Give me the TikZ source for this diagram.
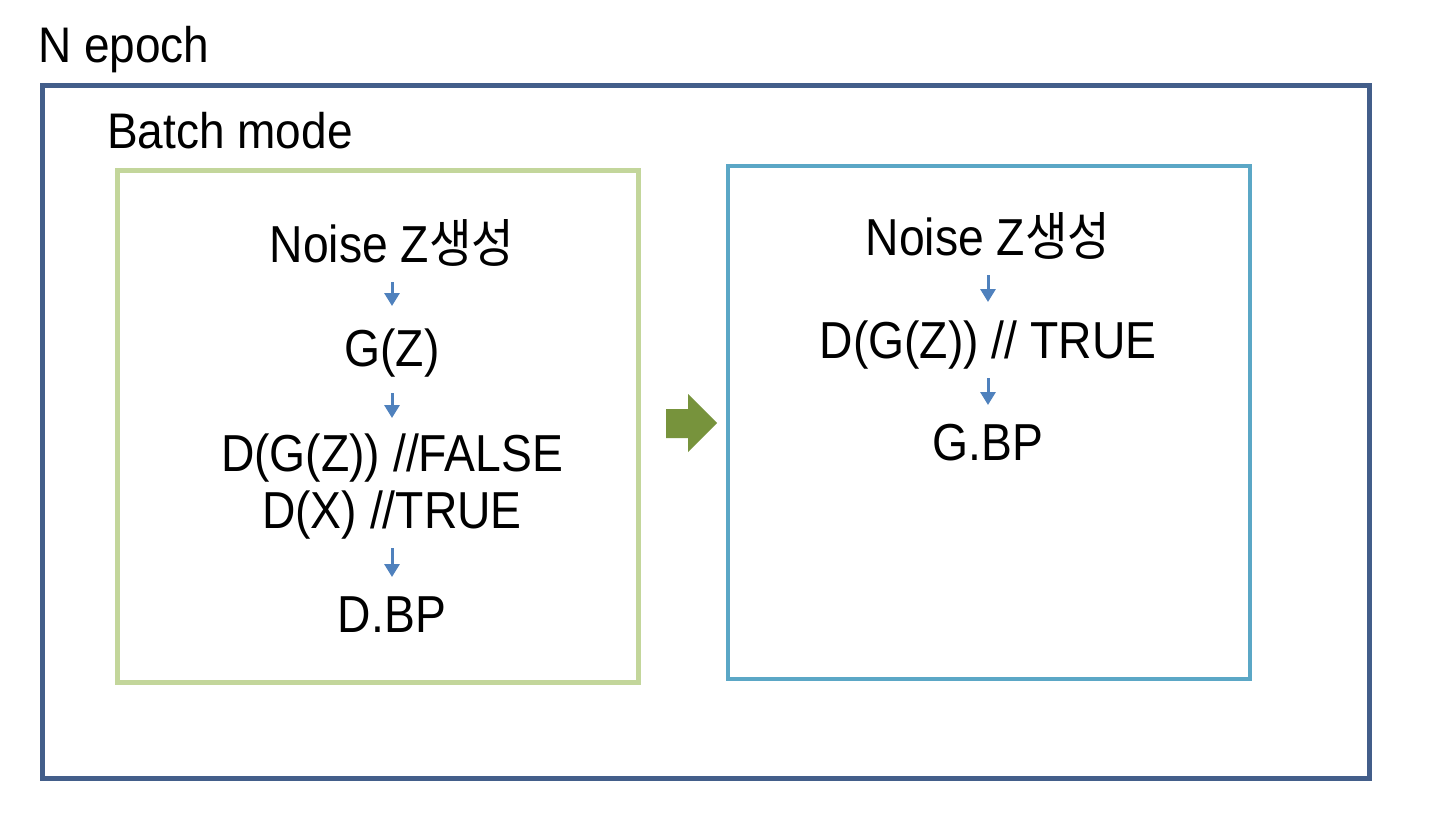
\documentclass[tikz,border=0pt]{standalone}
\usepackage{fontspec}
\setmainfont{Liberation Sans}
\newfontfamily\kr{Noto Sans CJK KR}
\usetikzlibrary{arrows.meta}
\definecolor{outerc}{RGB}{67,94,138}
\definecolor{greenc}{RGB}{195,214,155}
\definecolor{bluec}{RGB}{91,167,198}
\definecolor{arrowg}{RGB}{119,147,60}
\definecolor{arrowb}{RGB}{79,129,189}
\tikzset{
  txt/.style={anchor=base, inner sep=0pt, font=\fontsize{52}{60}\selectfont, xscale=0.89, transform shape},
  lbl/.style={anchor=base west, inner sep=0pt, font=\fontsize{50}{58}\selectfont, xscale=0.92, transform shape},
  arr/.style={arrowb, line width=3pt, -{Triangle[length=13pt,width=15pt]}},
  boxline/.style={line width=5pt}
}
\begin{document}
\begin{tikzpicture}[x=1pt,y=-1pt]
\useasboundingbox (0,0) rectangle (1432,814);
\fill[white] (0,0) rectangle (1432,814);
% frames
\draw[boxline, outerc] (42,85) rectangle (1369,778);
\draw[boxline, greenc] (117,170) rectangle (638,682);
\draw[line width=4.5pt, bluec] (728,166) rectangle (1250,679);
% titles
\node[lbl] (nep) at (38,62) {N epoch};
\node[lbl] (bm) at (107,148) {Batch mode};
% left column
\node[txt] (l1) at (392,262) {Noise Z{\kr 생성}};
\node[txt] (l2) at (392,366) {G(Z)};
\node[txt] (l3) at (392,471) {D(G(Z)) //FALSE};
\node[txt] (l4) at (392,528) {D(X) //TRUE};
\node[txt] (l5) at (392,632) {D.BP};
\draw[arr] ([yshift=-20pt]l1.base) -- ([yshift=60pt]l2.base);
\draw[arr] ([yshift=-27pt]l2.base) -- ([yshift=53pt]l3.base);
\draw[arr] ([yshift=-20pt]l4.base) -- ([yshift=55pt]l5.base);
% right column
\node[txt] (r1) at (988,255) {Noise Z{\kr 생성}};
\node[txt] (r2) at (988,358) {D(G(Z)) // TRUE};
\node[txt] (r3) at (988,460) {G.BP};
\draw[arr] ([yshift=-20pt]r1.base) -- ([yshift=56pt]r2.base);
\draw[arr] ([yshift=-20pt]r2.base) -- ([yshift=55pt]r3.base);
% big arrow
\fill[arrowg] (666,409) -- (688,409) -- (688,394) -- (717,423) -- (688,452) -- (688,438) -- (666,438) -- cycle;
\end{tikzpicture}
\end{document}
